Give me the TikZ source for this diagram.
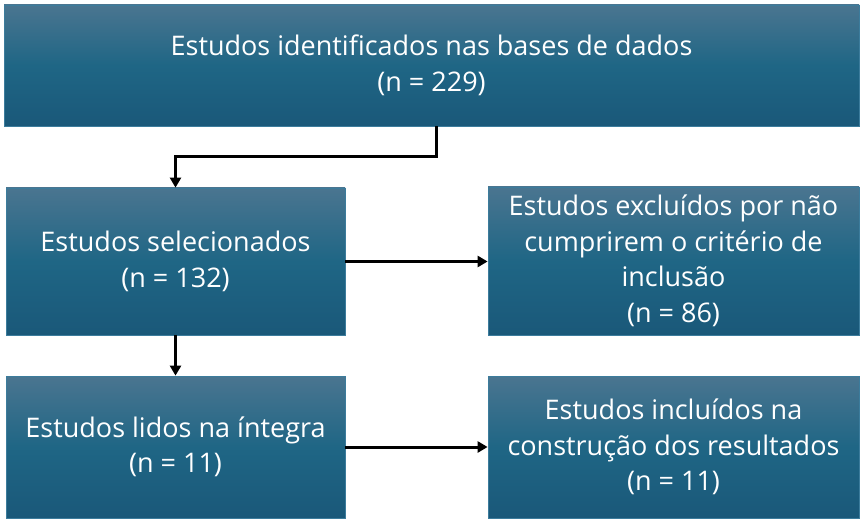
\documentclass[tikz,border=0pt]{standalone}
\usepackage{fontspec}
\setmainfont{Open Sans}
\usetikzlibrary{arrows.meta}
\definecolor{boxtop}{HTML}{4A7590}
\definecolor{boxmid}{HTML}{1F6685}
\definecolor{boxbot}{HTML}{1A5879}
\definecolor{boxedge}{HTML}{3C7C9C}
\tikzset{
  box/.style={rectangle, draw=boxedge, line width=0.8pt, top color=boxtop, bottom color=boxbot, middle color=boxmid,
    text=white, align=center, inner sep=0pt, font=\fontsize{27}{35.5}\selectfont},
  conn/.style={line width=3pt, -{Triangle[width=11pt,length=10pt]}},
}
\begin{document}
\begin{tikzpicture}[x=1pt,y=-1pt]
\useasboundingbox[fill=white] (0,0) rectangle (862,521);
\node[box, minimum width=855pt, minimum height=121pt] (a) at (431.5,65.5) {Estudos identificados nas bases de dados\\(n = 229)};
\node[box, minimum width=339pt, minimum height=147pt] (b) at (175.5,261.5) {Estudos selecionados\\(n = 132)};
\node[box, minimum width=371pt, minimum height=148pt] (c) at (673.5,261) {Estudos excluídos por não\\cumprirem o critério de\\inclusão\\(n = 86)};
\node[box, minimum width=339pt, minimum height=142pt] (d) at (175.5,447) {Estudos lidos na íntegra\\(n = 11)};
\node[box, minimum width=371pt, minimum height=142pt] (e) at (673.5,447) {Estudos incluídos na\\construção dos resultados\\(n = 11)};
\coordinate (k1) at (436,157);
\coordinate (k2) at (175.5,157);
\draw[conn] (a.south -| k1) -- (k1) -- (k2) -- (b.north);
\draw[conn] (b.east) -- (c.west |- b.east);
\draw[conn] (b.south) -- (d.north);
\draw[conn] (d.east) -- (e.west |- d.east);
\end{tikzpicture}
\end{document}
